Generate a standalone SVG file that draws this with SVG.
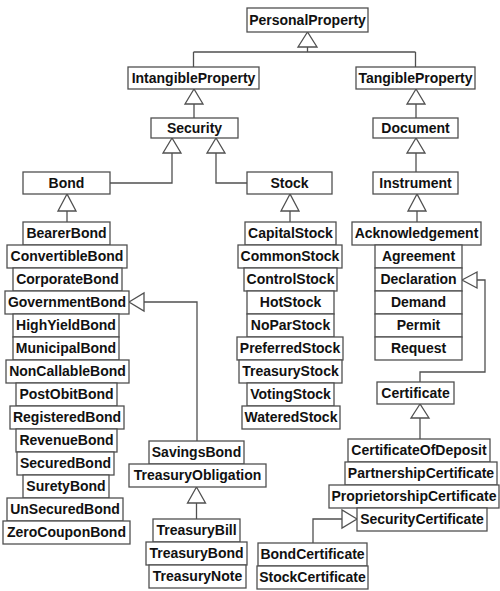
<svg xmlns="http://www.w3.org/2000/svg" width="500" height="591" viewBox="0 0 500 591">
<style>
.n rect{fill:#fff;stroke:#505050;stroke-width:1.3}
.n text{font-family:"Liberation Sans",Arial,sans-serif;font-weight:bold;font-size:14px;fill:#111;text-anchor:middle}
.c path{fill:none;stroke:#505050;stroke-width:1.3}
.c polygon{fill:#fff;stroke:#505050;stroke-width:1.3}
</style>
<rect width="500" height="591" fill="#fff"/>
<g class="c" id="connectors">
<path d="M307.5,47V52M193.5,52H415.5M193.5,52V67M415.5,52V67"/>
<polygon points="307.5,32 298,47 317,47"/>
<path d="M194,104V118"/>
<polygon points="194,89 185,104 203,104"/>
<path d="M416,104V118"/>
<polygon points="416,89 407,104 425,104"/>
<path d="M172,153V183H110"/>
<polygon points="172,138 163,153 181,153"/>
<path d="M216,153V183H247"/>
<polygon points="216,138 207,153 225,153"/>
<path d="M416,153V172"/>
<polygon points="416,138 407,153 425,153"/>
<path d="M67,211V222"/>
<polygon points="67,194 58,211 76,211"/>
<path d="M290,211V222"/>
<polygon points="290,194 281,211 299,211"/>
<path d="M417,211V222"/>
<polygon points="417,194 408,211 426,211"/>
<path d="M144,302H197V441"/>
<polygon points="129,302 144,293 144,311"/>
<path d="M196.5,503V519"/>
<polygon points="196.5,487 187.5,503 205.5,503"/>
<path d="M477,280H485V372H420V382"/>
<polygon points="462,280 477,272 477,288"/>
<path d="M420,418V439"/>
<polygon points="420,404 411,418 429,418"/>
<path d="M342,519H313V543"/>
<polygon points="357,519 342,510 342,528"/>
</g>
<g class="n" id="PersonalProperty"><rect x="247" y="8" width="121" height="24"/><text x="307.5" y="24.5">PersonalProperty</text></g>
<g class="n" id="IntangibleProperty"><rect x="128" y="67" width="131" height="22"/><text x="193.5" y="82.5">IntangibleProperty</text></g>
<g class="n" id="TangibleProperty"><rect x="356" y="67" width="119" height="22"/><text x="415.5" y="82.5">TangibleProperty</text></g>
<g class="n" id="Security"><rect x="151" y="118" width="87" height="20"/><text x="194.5" y="132.5">Security</text></g>
<g class="n" id="Document"><rect x="373" y="118" width="85" height="20"/><text x="415.5" y="132.5">Document</text></g>
<g class="n" id="Bond"><rect x="23" y="172" width="87" height="22"/><text x="66.5" y="187.5">Bond</text></g>
<g class="n" id="Stock"><rect x="247" y="172" width="85" height="22"/><text x="289.5" y="187.5">Stock</text></g>
<g class="n" id="Instrument"><rect x="373" y="172" width="85" height="22"/><text x="415.5" y="187.5">Instrument</text></g>

<g class="n" id="BearerBond"><rect x="23" y="222" width="87" height="23"/><text x="66.5" y="237.5">BearerBond</text></g>
<g class="n" id="ConvertibleBond"><rect x="7" y="245" width="120" height="23"/><text x="67" y="260.5">ConvertibleBond</text></g>
<g class="n" id="CorporateBond"><rect x="13" y="268" width="109" height="23"/><text x="67.5" y="283.5">CorporateBond</text></g>
<g class="n" id="GovernmentBond"><rect x="5" y="291" width="124" height="23"/><text x="67" y="306.5">GovernmentBond</text></g>
<g class="n" id="HighYieldBond"><rect x="13" y="314" width="106" height="23"/><text x="66" y="329.5">HighYieldBond</text></g>
<g class="n" id="MunicipalBond"><rect x="13" y="337" width="106" height="23"/><text x="66" y="352.5">MunicipalBond</text></g>
<g class="n" id="NonCallableBond"><rect x="6" y="360" width="123" height="23"/><text x="67.5" y="375.5">NonCallableBond</text></g>
<g class="n" id="PostObitBond"><rect x="16" y="383" width="101" height="23"/><text x="66.5" y="398.5">PostObitBond</text></g>
<g class="n" id="RegisteredBond"><rect x="10" y="406" width="114" height="23"/><text x="67" y="421.5">RegisteredBond</text></g>
<g class="n" id="RevenueBond"><rect x="16" y="429" width="101" height="23"/><text x="66.5" y="444.5">RevenueBond</text></g>
<g class="n" id="SecuredBond"><rect x="17" y="452" width="97" height="23"/><text x="65.5" y="467.5">SecuredBond</text></g>
<g class="n" id="SuretyBond"><rect x="23" y="475" width="86" height="23"/><text x="66" y="490.5">SuretyBond</text></g>
<g class="n" id="UnSecuredBond"><rect x="7" y="498" width="116" height="23"/><text x="65" y="513.5">UnSecuredBond</text></g>
<g class="n" id="ZeroCouponBond"><rect x="3" y="521" width="127" height="23"/><text x="66.5" y="536.5">ZeroCouponBond</text></g>

<g class="n" id="CapitalStock"><rect x="245" y="222" width="91" height="23"/><text x="290.5" y="237.5">CapitalStock</text></g>
<g class="n" id="CommonStock"><rect x="238" y="245" width="104" height="23"/><text x="290" y="260.5">CommonStock</text></g>
<g class="n" id="ControlStock"><rect x="244" y="268" width="93" height="23"/><text x="290.5" y="283.5">ControlStock</text></g>
<g class="n" id="HotStock"><rect x="247" y="291" width="87" height="23"/><text x="290.5" y="306.5">HotStock</text></g>
<g class="n" id="NoParStock"><rect x="247" y="314" width="87" height="23"/><text x="290.5" y="329.5">NoParStock</text></g>
<g class="n" id="PreferredStock"><rect x="237" y="337" width="106" height="23"/><text x="290" y="352.5">PreferredStock</text></g>
<g class="n" id="TreasuryStock"><rect x="239" y="360" width="103" height="23"/><text x="290.5" y="375.5">TreasuryStock</text></g>
<g class="n" id="VotingStock"><rect x="247" y="383" width="87" height="23"/><text x="290.5" y="398.5">VotingStock</text></g>
<g class="n" id="WateredStock"><rect x="242" y="406" width="98" height="23"/><text x="291" y="421.5">WateredStock</text></g>

<g class="n" id="Acknowledgement"><rect x="352" y="222" width="129" height="23"/><text x="416.5" y="237.5">Acknowledgement</text></g>
<g class="n" id="Agreement"><rect x="375" y="245" width="87" height="23"/><text x="418.5" y="260.5">Agreement</text></g>
<g class="n" id="Declaration"><rect x="375" y="268" width="87" height="23"/><text x="418.5" y="283.5">Declaration</text></g>
<g class="n" id="Demand"><rect x="375" y="291" width="87" height="23"/><text x="418.5" y="306.5">Demand</text></g>
<g class="n" id="Permit"><rect x="375" y="314" width="87" height="23"/><text x="418.5" y="329.5">Permit</text></g>
<g class="n" id="Request"><rect x="375" y="337" width="87" height="23"/><text x="418.5" y="352.5">Request</text></g>

<g class="n" id="Certificate"><rect x="377" y="382" width="77" height="22"/><text x="415.5" y="397.5">Certificate</text></g>
<g class="n" id="CertificateOfDeposit"><rect x="348" y="439" width="142" height="23"/><text x="419" y="454.5">CertificateOfDeposit</text></g>
<g class="n" id="PartnershipCertificate"><rect x="345" y="462" width="152" height="23"/><text x="421" y="477.5">PartnershipCertificate</text></g>
<g class="n" id="ProprietorshipCertificate"><rect x="329" y="485" width="170" height="23"/><text x="414" y="500.5">ProprietorshipCertificate</text></g>
<g class="n" id="SecurityCertificate"><rect x="357" y="508" width="130" height="23"/><text x="422" y="523.5">SecurityCertificate</text></g>
<g class="n" id="BondCertificate"><rect x="258" y="543" width="109" height="23"/><text x="312.5" y="558.5">BondCertificate</text></g>
<g class="n" id="StockCertificate"><rect x="257" y="566" width="111" height="23"/><text x="312.5" y="581.5">StockCertificate</text></g>

<g class="n" id="SavingsBond"><rect x="149" y="441" width="95" height="23"/><text x="196.5" y="456.5">SavingsBond</text></g>
<g class="n" id="TreasuryObligation"><rect x="129" y="464" width="137" height="23"/><text x="197.5" y="479.5">TreasuryObligation</text></g>
<g class="n" id="TreasuryBill"><rect x="153" y="519" width="87" height="23"/><text x="196.5" y="534.5">TreasuryBill</text></g>
<g class="n" id="TreasuryBond"><rect x="146" y="542" width="101" height="23"/><text x="196.5" y="557.5">TreasuryBond</text></g>
<g class="n" id="TreasuryNote"><rect x="149" y="565" width="97" height="23"/><text x="197.5" y="580.5">TreasuryNote</text></g>
</svg>
